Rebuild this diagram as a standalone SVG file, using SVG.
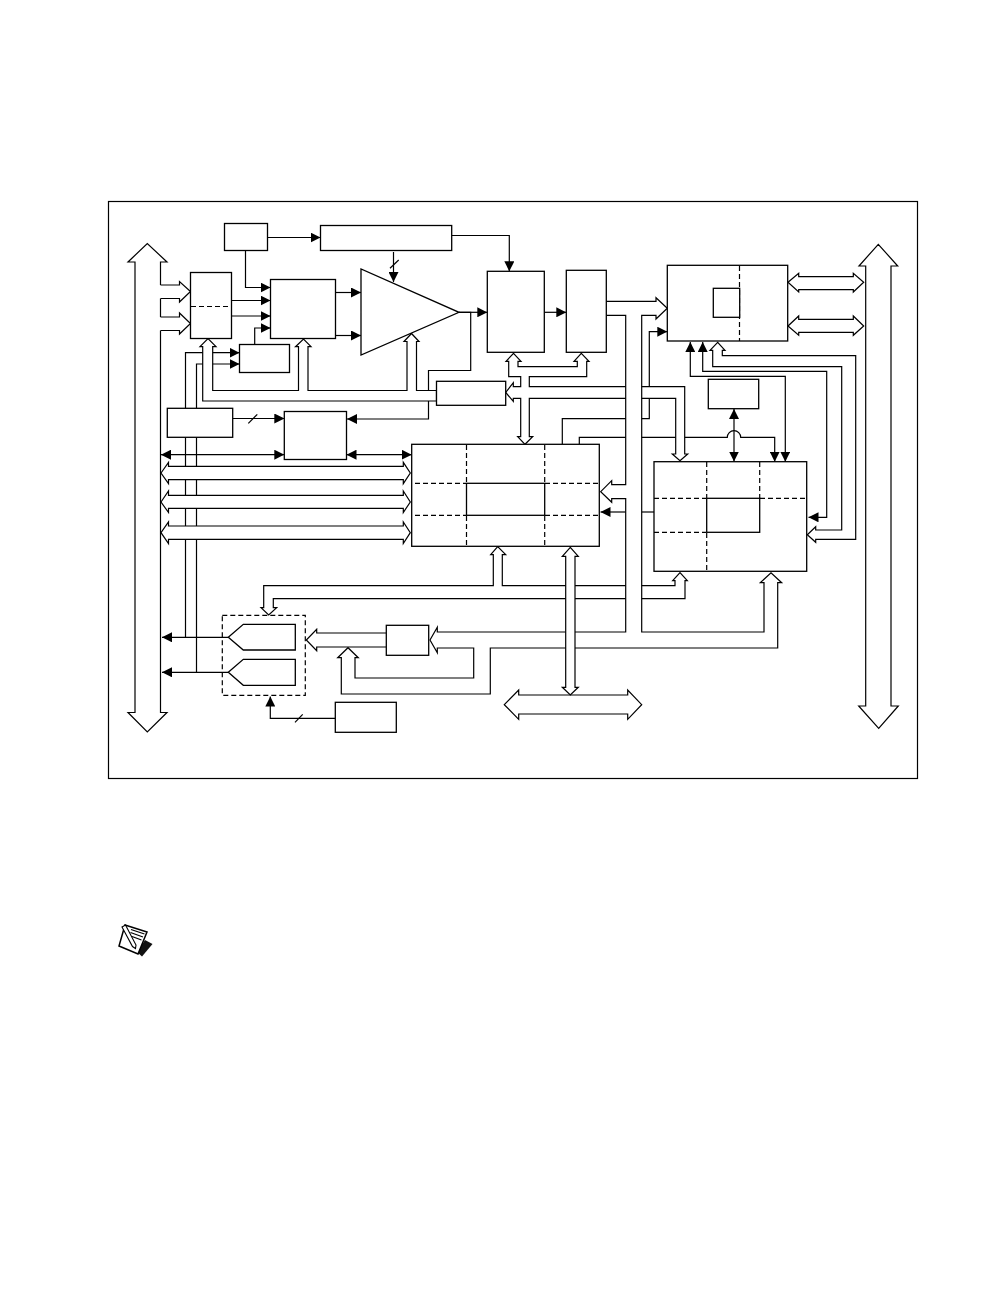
<svg xmlns="http://www.w3.org/2000/svg" width="1008" height="1296" viewBox="0 0 1008 1296">
<style>
.l{fill:none;stroke:#000;stroke-width:1.2}
.a{fill:none;stroke:#000;stroke-width:1.2;marker-end:url(#h)}
.d{fill:none;stroke:#000;stroke-width:1.2;marker-start:url(#h);marker-end:url(#h)}
.w{fill:#fff;stroke:#000;stroke-width:1.2;stroke-linejoin:miter}
.b{fill:#fff;stroke:#000;stroke-width:1.3}
.s{fill:none;stroke:#000;stroke-width:1.2;stroke-dasharray:5 3}
</style>
<defs>
<marker id="h" markerUnits="userSpaceOnUse" markerWidth="10" markerHeight="10" refX="10" refY="5" orient="auto-start-reverse"><path d="M0 0L10 5L0 10Z" fill="#000"/></marker>
</defs>
<rect width="1008" height="1296" fill="#fff"/>
<rect id="frame" x="108.5" y="201.5" width="809" height="577" fill="none" stroke="#000" stroke-width="1.2"/>
<g id="connectors">
<path class="a" d="M267.5 237.5H320.5"/>
<path class="a" d="M451.7 235.5H509.3V271.3"/>
<path class="a" d="M245.5 250.5V287.5H270.5"/>
<path class="a" d="M231.5 300.5H270.5"/>
<path class="a" d="M231.5 316H270.5"/>
<path class="a" d="M254.7 344.5V328H270.5"/>
<path class="a" d="M335.5 292.5H361"/>
<path class="a" d="M335.5 335.5H361"/>
<path class="a" d="M393.5 252V282"/>
<path class="l" d="M390 268.3L398.7 260"/>
<path class="a" d="M459 312.3H487.3"/>
<path class="a" d="M544.3 312.3H566.3"/>
<path class="a" d="M428.5 401V419H347"/>
<path class="l" d="M459 312.3H470.7V370.5H428.5V390.5"/>
<path class="a" d="M232.7 418.5H284.3"/>
<path class="l" d="M248.3 423.3L257.3 414.3"/>
<path class="d" d="M161 454.7H284.3"/>
<path class="d" d="M346.5 454.7H411.7"/>
<path class="a" d="M185.5 408.3V352.7H239.5"/>
<path class="a" d="M196.5 408.3V364H239.5"/>
<path class="l" d="M185.5 437.3V637.3"/>
<path class="l" d="M196.5 437.3V672.3"/>
<path class="a" d="M228.3 637.3H162"/>
<path class="a" d="M228.3 672.3H162"/>
<path class="a" d="M335.3 718.3H270.3V696.5"/>
<path class="l" d="M295 722.3L302.7 714.3"/>
<path class="a" d="M562.3 444.3V418.7H649.3V331.7H667.3"/>
<path class="a" d="M579.3 444.3V437.3H727.3A6.7 6.7 0 0 1 740.7 437.3H774.7V461.7"/>
<path class="d" d="M690.3 342V376.3H785.3V461.7"/>
<path class="d" d="M702.7 342V371.3H826.7V517.3H808.5"/>
<path class="d" d="M734 409V461.5"/>
<path class="a" d="M625.7 512H600.5"/>
<path class="l" d="M641.7 512H654"/>
<path class="l" d="M160.5 285V262H167L147.3 243.5L128 262H135V712.5H128L147.3 732L167 712.5H160.5V330.5M160.5 317V298.5"/>
<path class="w" d="M160.5 285H179.5V281.5L190.5 291.5L179.5 302V298.5H160.5"/>
<path class="w" d="M160.5 317H179.5V313L190.5 323.5L179.5 334V330.5H160.5"/>
<path class="w" d="M161 473L168.5 462.3V466.3H403.3V462.3L410.3 473L403.3 483.7V479.7H168.5V483.7Z"/>
<path class="w" d="M161 502L168.5 491V495.3H403.3V491L410.3 502L403.3 512.5V508.3H168.5V512.5Z"/>
<path class="w" d="M161 532.7L168.5 522V526H403.3V522L410.3 532.7L403.3 543.5V539.3H168.5V543.5Z"/>
<path class="w" d="M200 346.7L208 338.7L216 346.7H212.7V390.5H298.5V346.7H295.5L303.5 339L311 346.7H308V390.5H407V341.5H404L411.5 333.5L419 341.5H416.5V390.5H436.5V401H202.7V346.7Z"/>
<path class="w" d="M513.3 386.6H520.7V376.7H508.7V361.3H506L513.5 353.3L521 361.3H518V366.7H577.3V361.3H574L581.3 353.3L589 361.3H586.7V376.7H529.3V386.6H684.7V454H687.7L680 460.7L672.3 454H675.7V398.3H529.3V436.7H532.7L525 444.3L517.7 436.7H520.7V398.3H513.3V401.3L505.7 392.5L513.3 382.7Z"/>
<path class="w" d="M263.7 607.7V585.7H493.3V554.7H490.7L497.7 546.7L505.7 554.7H502.3V585.7H675V580.7H672.7L680 572.7L687.3 580.7H685V598.7H273.3V607.7H276.7L268.7 615L261 607.7Z"/>
<path class="w" d="M606.3 301.3H656V297.7L667.3 308.3L656 319V315.3H641.7V632H764V582.7H760.3L771 572.7L781.7 582.7H777.7V648H490.3V694H341.3V657.7H337.7L348 647.7L358.3 657.7H355V678H473.7V648H437.3V652.7L430 640L437.3 627.3V632H625.7V498.7H611.7V502.3L600.7 491.7L611.7 480.7V484.7H625.7V315.3H606.3"/>
<path class="w" d="M504.3 704.7L518.7 690V695H627.7V690L641.7 704.7L627.7 719.3V714H518.7V719.3Z"/>
<path class="w" d="M570.3 547.3L578.3 556.3H575V687.3H578.3L570.3 695L562.3 687.3H565.7V556.3H562.3Z"/>
<path class="w" d="M386.3 633H316.7V629.3L306.3 640L316.7 650.7V647H386.3"/>
<path class="w" d="M710 350.3L717.7 342.3L725 350.3H722.3V355.7H855.7V539.3H815.7V542.3L807.3 534.7L815.7 526.7V530H841.7V366.7H712.7V350.3Z"/>
<path class="w" d="M788 282.3L798.7 273.3V276.7H853.3V273.3L863.7 282.3L853.3 292V289.7H798.7V292Z"/>
<path class="w" d="M788 326L798.7 316V319.3H853.3V316L863.7 326L853.3 335.3V332.3H798.7V335.3Z"/>
<path class="w" d="M878.3 244.3L897.7 266H891V706H898.3L878.7 728.3L858.7 706H865.7V266H859Z"/>
</g>
<g id="node-clock"><rect class="b" x="224.5" y="223.5" width="43" height="27"/></g>
<g id="node-long"><rect class="b" x="320.5" y="225.5" width="131.2" height="25"/></g>
<g id="node-mux"><rect class="b" x="190.5" y="272.5" width="41" height="66"/><path class="s" d="M191 306.5H231"/></g>
<g id="node-c"><rect class="b" x="270.5" y="279.5" width="65" height="59"/></g>
<g id="node-d"><rect class="b" x="239.5" y="344.5" width="50" height="28"/></g>
<g id="node-amp"><path class="b" d="M361 269V355L459 312.3Z"/></g>
<g id="node-i"><rect class="b" x="487.3" y="271.3" width="57" height="81"/></g>
<g id="node-j"><rect class="b" x="566.3" y="270.3" width="40" height="82"/></g>
<g id="node-k"><rect class="b" x="667.3" y="265.3" width="120.4" height="75.7"/><path class="s" d="M739.5 266V341"/><rect class="b" x="713.3" y="288.3" width="26.4" height="29"/></g>
<g id="node-e"><rect class="b" x="436.5" y="381.3" width="69.2" height="24"/></g>
<g id="node-f"><rect class="b" x="167.3" y="408.3" width="65.4" height="29"/></g>
<g id="node-g"><rect class="b" x="284.3" y="411.5" width="62.2" height="48"/></g>
<g id="node-o"><rect class="b" x="708.3" y="379.3" width="50.4" height="29.4"/></g>
<g id="node-h"><rect class="b" x="411.7" y="444.3" width="187.6" height="102"/><path class="s" d="M415 483.3H466M545 483.3H599M415 515.3H466M545 515.3H599M466.5 445V483M466.5 516V546M544.7 445V483M544.7 516V546"/><rect class="b" x="466.5" y="483.3" width="78.2" height="32"/></g>
<g id="node-n"><rect class="b" x="654" y="461.7" width="152.7" height="109.6"/><path class="s" d="M654 498.3H706M760 498.3H806M654 532.3H706M706.7 462V498M706.7 533V571M759.7 462V498"/><rect class="b" x="706.7" y="498.3" width="53" height="34"/></g>
<g id="node-l"><rect class="b" x="386.3" y="625.3" width="42.4" height="30"/></g>
<g id="node-m"><rect class="b" x="335.3" y="702.3" width="61" height="30"/></g>
<g id="node-dac"><rect class="s" x="222.3" y="615.3" width="83" height="80"/><path class="b" d="M228.3 637.3L243.3 624.3H295.3V650H243.3Z"/><path class="b" d="M228.3 672.3L243.3 659.3H295.3V685.3H243.3Z"/></g>
<g id="note-icon">
<path d="M137 952L145 940L152.5 944L142 956.5Z" fill="#111"/>
<path d="M125 925L147 932L138 954L119 946Z" fill="#fff" stroke="#000" stroke-width="1.5"/>
<path class="l" d="M131 929.5L144.5 934M130.5 932.5L143 937M132 936.5L141.5 940"/>
<path d="M122 927L125.5 925L136 945L135.5 948.5L132.5 946.5Z" fill="#fff" stroke="#000" stroke-width="1.1"/>
</g>
</svg>
